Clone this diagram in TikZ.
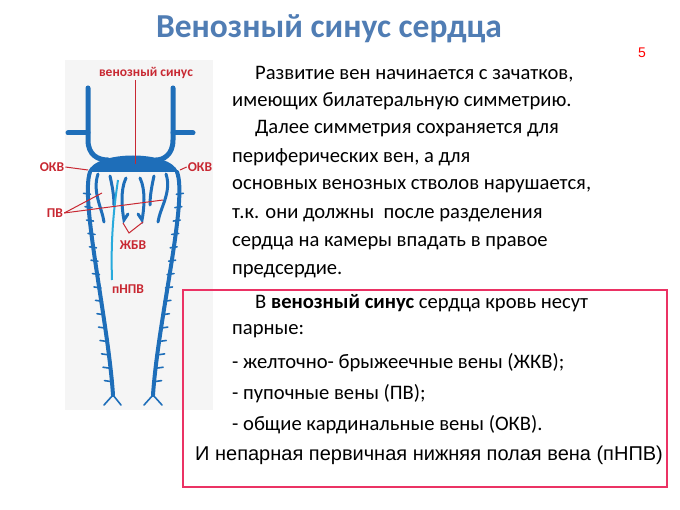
\documentclass[tikz,border=0pt]{standalone}
\usepackage{fontspec}
\setmainfont{Carlito}
\newfontfamily\arialfont{Liberation Sans}
\usetikzlibrary{positioning,calc}
\definecolor{vein}{RGB}{30,110,185}
\definecolor{lightvein}{RGB}{40,170,220}
\definecolor{labelred}{RGB}{200,40,50}
\definecolor{titleblue}{RGB}{80,125,180}
\definecolor{boxpink}{RGB}{235,50,100}

\begin{document}
\begin{tikzpicture}[x=1pt,y=-1pt,
    vessel/.style={draw=vein, line width=5pt, line cap=round},
    branch/.style={draw=vein, line width=3pt, line cap=round},
    twig/.style={draw=vein, line width=1.6pt, line cap=round},
    pointer/.style={draw=labelred, line width=1pt},
    veinlabel/.style={text=labelred, font=\bfseries\fontsize{13.5}{14}\selectfont, inner sep=1pt},
    bodytext/.style={anchor=west, font=\fontsize{20.6}{23}\selectfont, inner sep=0pt}
]
\useasboundingbox[fill=white] (0,0) rectangle (680,510);

% Title and page number
\node[text=titleblue, font=\bfseries\fontsize{33.5}{36}\selectfont] (title) at (329,29) {Венозный синус сердца};
\node[text=red, font=\arialfont\fontsize{14}{15}\selectfont] (page) at (642,53) {5};

% Diagram background
\fill[black!4] (65,60) rectangle (213,410);

% Upper veins
\draw[vessel] (88,88) -- (88,140) .. controls (88,155) and (98,160) .. (108,160);
\draw[vessel] (173,88) -- (173,140) .. controls (173,155) and (163,160) .. (156,160);
\draw[vessel] (88,133) -- (68,133);
\draw[vessel] (173,133) -- (193,133);

% Venous sinus
\fill[vein] (88,172) .. controls (95,150) and (171,150) .. (178,172) -- cycle;

% Cardinal veins
\draw[vessel, line width=4pt] (90,172) .. controls (80,200) and (108,320) .. (113,395);
\draw[vessel, line width=4pt] (177,172) .. controls (188,200) and (158,320) .. (153,395);
\draw[twig] (113,395) -- (104,405) (113,395) -- (121,405);
\draw[twig] (153,395) -- (144,405) (153,395) -- (162,405);
\foreach \t in {0.1,0.16,...,0.95} {
    \draw[twig] ($(88,172)!\t!(113,395)$) -- ++(-7,-1);
    \draw[twig] ($(179,172)!\t!(153,395)$) -- ++(7,-1);
}

% Umbilical veins
\draw[branch] (98,174) .. controls (92,192) and (102,208) .. (104,222);
\draw[branch] (166,174) .. controls (172,192) and (160,208) .. (158,222);

% Vitelline veins
\draw[branch] (110,176) .. controls (112,185) and (114,195) .. (114,205);
\draw[branch] (154,176) .. controls (152,185) and (150,195) .. (150,205);
\draw[branch] (126,178) .. controls (120,190) and (122,210) .. (124,220) -- (128,214);
\draw[branch] (140,178) .. controls (146,190) and (144,210) .. (142,220) -- (138,214);

% Primary inferior vena cava
\draw[draw=lightvein, line width=2pt] (118,180) .. controls (112,220) and (111,250) .. (112,280);

% Labels
\node[veinlabel] (sinus) at (146,73) {венозный синус};
\coordinate (sinusend) at (135,164);
\draw[pointer] (sinus.south -| sinusend) -- (sinusend);
\node[veinlabel] (okvl) at (52,167) {ОКВ};
\draw[pointer] (okvl.east) -- (88,170);
\node[veinlabel] (okvr) at (200,167) {ОКВ};
\draw[pointer] (okvr.west) -- (180,170);
\node[veinlabel] (pv) at (55,213) {ПВ};
\coordinate (pvl) at (102,193);
\coordinate (pvr) at (163,200);
\draw[pointer] (pv.east) -- (pvl);
\draw[pointer] (pv.east) -- (pvr);
\node[veinlabel] (zhbv) at (133,245) {ЖБВ};
\draw[pointer] (123,223) -- (129,233) -- (143,222);
\node[veinlabel] (pnpv) at (128,289) {пНПВ};

% Main text
\node[bodytext] (l1) at (255,74) {Развитие вен начинается с зачатков,};
\node[bodytext] (l2) at (232,101) {имеющих билатеральную симметрию.};
\node[bodytext] (l3) at (255,129) {Далее симметрия сохраняется для};
\node[bodytext] (l4) at (232,157) {периферических вен, а для};
\node[bodytext] (l5) at (232,186) {основных венозных стволов нарушается,};
\node[bodytext] (l6) at (232,215) {т.к. они должны\ \ после разделения};
\node[bodytext] (l7) at (232,243) {сердца на камеры впадать в правое};
\node[bodytext] (l8) at (232,271) {предсердие.};

% Boxed text
\draw[draw=boxpink, line width=2.5pt] (183,290) rectangle (667,487);
\node[bodytext] (b1) at (255,303) {В \textbf{венозный синус} сердца кровь несут};
\node[bodytext] (b2) at (232,331) {парные:};
\node[bodytext] (b3) at (232,363) {- желточно- брыжеечные вены (ЖКВ);};
\node[bodytext] (b4) at (232,394) {- пупочные вены (ПВ);};
\node[bodytext] (b5) at (232,425) {- общие кардинальные вены (ОКВ).};
\node[anchor=west, inner sep=0pt, font=\arialfont\fontsize{20}{22}\selectfont] (b6) at (195,455) {И непарная первичная нижняя полая вена (пНПВ)};
\end{tikzpicture}
\end{document}
